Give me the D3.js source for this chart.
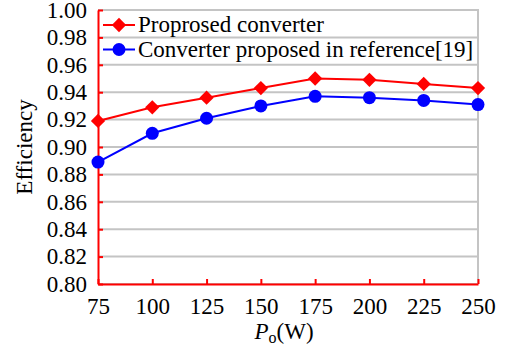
<!DOCTYPE html>
<html><head><meta charset="utf-8">
<script src="https://cdn.jsdelivr.net/npm/d3@7"></script>
<style>body{margin:0;background:#fff}svg{display:block}svg text{font-family:"Liberation Serif","Times New Roman",serif !important;fill:#000}</style>
</head><body>
<svg id="c" width="506" height="346"></svg>
<script>
const powers = [75, 100, 125, 150, 175, 200, 225, 250];
const proposed = [0.919, 0.929, 0.936, 0.943, 0.950, 0.949, 0.946, 0.943];
const reference19 = [0.889, 0.910, 0.921, 0.930, 0.937, 0.936, 0.934, 0.931];
const yTicks = [0.80, 0.82, 0.84, 0.86, 0.88, 0.90, 0.92, 0.94, 0.96, 0.98, 1.00];
const seriesNames = ["Proprosed converter", "Converter proposed in reference[19]"];

const svg = d3.select("#c");
const L = 98, R = 478, T = 10, B = 284;
const x = d3.scaleLinear().domain([75, 250]).range([L, R]);
const y = d3.scaleLinear().domain([0.80, 1.00]).range([B, T]);
const fs = 23;
const FF = "Liberation Serif";

// gridlines
svg.append("g").selectAll("line").data(yTicks).join("line")
  .attr("x1", L).attr("x2", R).attr("y1", d => y(d)).attr("y2", d => y(d))
  .attr("stroke", "#c4c4c4").attr("stroke-width", 2);
// right border
svg.append("line").attr("x1", R).attr("x2", R).attr("y1", T - 1).attr("y2", B)
  .attr("stroke", "#c4c4c4").attr("stroke-width", 2);

// y axis
const yAxis = d3.axisLeft(y).tickValues(yTicks).tickFormat(d3.format(".2f")).tickSizeInner(-5).tickSizeOuter(0).tickPadding(11);
const gy = svg.append("g").attr("transform", `translate(${L},0)`).call(yAxis).attr("font-family", FF);
gy.select(".domain").attr("stroke", "#ff0000").attr("stroke-width", 2);
gy.selectAll(".tick line").attr("stroke", "#ff0000").attr("stroke-width", 2);
gy.selectAll("text").attr("font-size", fs).attr("fill", "#000");

// x axis
const xAxis = d3.axisBottom(x).tickValues(powers).tickFormat(d3.format("d")).tickSizeInner(-5).tickSizeOuter(0).tickPadding(14);
const gx = svg.append("g").attr("transform", `translate(0,${B})`).call(xAxis).attr("font-family", FF);
gx.select(".domain").attr("stroke", "#ff0000").attr("stroke-width", 2);
gx.selectAll(".tick line").attr("stroke", "#ff0000").attr("stroke-width", 2);
gx.selectAll("text").attr("font-size", fs).attr("fill", "#000");

// lines
const line = d3.line().x((d, i) => x(powers[i])).y(d => y(d));
svg.append("path").datum(proposed).attr("d", line).attr("fill", "none").attr("stroke", "#ff0000").attr("stroke-width", 2);
svg.append("path").datum(reference19).attr("d", line).attr("fill", "none").attr("stroke", "#0000ff").attr("stroke-width", 2);

const diamond = d3.symbol().type(d3.symbolDiamond2).size(130);
svg.append("g").selectAll("path").data(proposed).join("path")
  .attr("d", diamond).attr("transform", (d, i) => `translate(${x(powers[i])},${y(d)})`)
  .attr("fill", "#ff0000");
svg.append("g").selectAll("circle").data(reference19).join("circle")
  .attr("cx", (d, i) => x(powers[i])).attr("cy", d => y(d)).attr("r", 6.5)
  .attr("fill", "#0000ff");

// legend
const leg = svg.append("g").attr("font-family", FF);
const legY = [25, 49.5];
const colors = ["#ff0000", "#0000ff"];
leg.selectAll("line").data(seriesNames).join("line")
  .attr("x1", 103).attr("x2", 135).attr("y1", (d, i) => legY[i]).attr("y2", (d, i) => legY[i])
  .attr("stroke", (d, i) => colors[i]).attr("stroke-width", 2);
leg.append("path").attr("d", diamond).attr("transform", `translate(119,${legY[0]})`).attr("fill", colors[0]);
leg.append("circle").attr("cx", 119).attr("cy", legY[1]).attr("r", 6.5).attr("fill", colors[1]);
leg.selectAll("text").data(seriesNames).join("text")
  .attr("x", 138).attr("y", (d, i) => legY[i] + 7).attr("font-size", fs).text(d => d);

// axis titles
svg.append("text").attr("transform", `translate(32,${(T + B) / 2}) rotate(-90)`)
  .attr("text-anchor", "middle").attr("font-size", fs).attr("font-family", FF).text("Efficiency");
const xt = svg.append("text").attr("x", 284).attr("y", 339).attr("text-anchor", "middle").attr("font-size", fs).attr("font-family", FF);
xt.append("tspan").attr("font-style", "italic").text("P");
xt.append("tspan").attr("font-size", 16).attr("dy", 4).text("o");
xt.append("tspan").attr("dy", -4).text("(W)");
</script>
</body></html>
